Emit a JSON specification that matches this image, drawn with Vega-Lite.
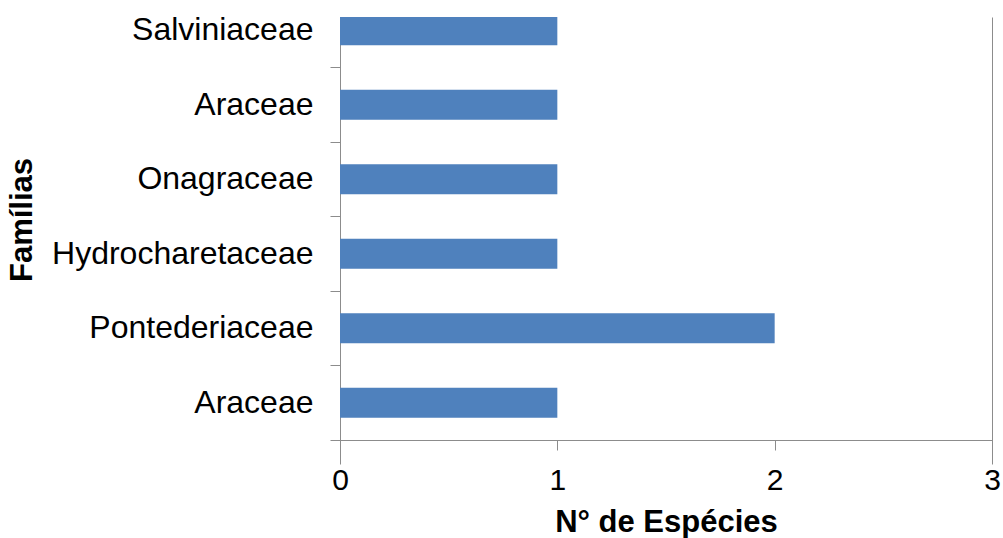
{
  "$schema": "https://vega.github.io/schema/vega-lite/v6.json",
  "width": 652,
  "height": 423,
  "autosize": "none",
  "padding": {"top": 17, "left": 340, "right": 11, "bottom": 98},
  "background": "white",
  "config": {
    "view": {"stroke": null},
    "font": "Liberation Sans"
  },
  "data": {
    "values": [
      {"id": "f1", "familia": "Salviniaceae", "especies": 1},
      {"id": "f2", "familia": "Araceae", "especies": 1},
      {"id": "f3", "familia": "Onagraceae", "especies": 1},
      {"id": "f4", "familia": "Hydrocharetaceae", "especies": 1},
      {"id": "f5", "familia": "Pontederiaceae", "especies": 2},
      {"id": "f6", "familia": "Araceae", "especies": 1}
    ]
  },
  "mark": {"type": "bar", "color": "#4F81BD", "height": {"band": 0.4}, "clip": true},
  "encoding": {
    "y": {
      "field": "id",
      "type": "nominal",
      "sort": null,
      "scale": {"range": [-24, 423], "paddingInner": 0, "paddingOuter": 0},
      "axis": {
        "title": "Famílias",
        "titleFont": "Liberation Sans",
        "titleFontSize": 31,
        "titleFontWeight": "bold",
        "titleColor": "black",
        "titleAngle": -90,
        "titleBaseline": "alphabetic",
        "titleAlign": "center",
        "titleX": -309,
        "titleY": 202.5,
        "domain": false,
        "bandPosition": 1,
        "tickSize": 10,
        "tickColor": "#8C8C8C",
        "tickWidth": 1,
        "labelPadding": 17,
        "labelLimit": 0,
        "labelFontSize": 32,
        "labelColor": "black",
        "labelFont": "Liberation Sans",
        "labelExpr": "{'f1':'Salviniaceae','f2':'Araceae','f3':'Onagraceae','f4':'Hydrocharetaceae','f5':'Pontederiaceae','f6':'Araceae'}[datum.value]",
        "grid": false
      }
    },
    "x": {
      "field": "especies",
      "type": "quantitative",
      "scale": {"domain": [0, 3], "nice": false},
      "axis": {
        "title": "N° de Espécies",
        "titleFont": "Liberation Sans",
        "titleFontSize": 31,
        "titleFontWeight": "bold",
        "titleColor": "black",
        "titleBaseline": "alphabetic",
        "titleY": 91.5,
        "titleX": 326,
        "titleAlign": "center",
        "values": [0, 1, 2, 3],
        "format": "d",
        "domainColor": "#8C8C8C",
        "domainWidth": 1,
        "tickColor": "#8C8C8C",
        "tickSize": 10,
        "labelFontSize": 30,
        "labelPadding": 15,
        "labelColor": "black",
        "labelFont": "Liberation Sans",
        "labelFlush": false,
        "grid": true,
        "gridColor": "#8C8C8C",
        "gridOpacity": {"condition": {"test": "datum.value == 1 || datum.value == 2", "value": 0}, "value": 1}
      }
    }
  }
}
